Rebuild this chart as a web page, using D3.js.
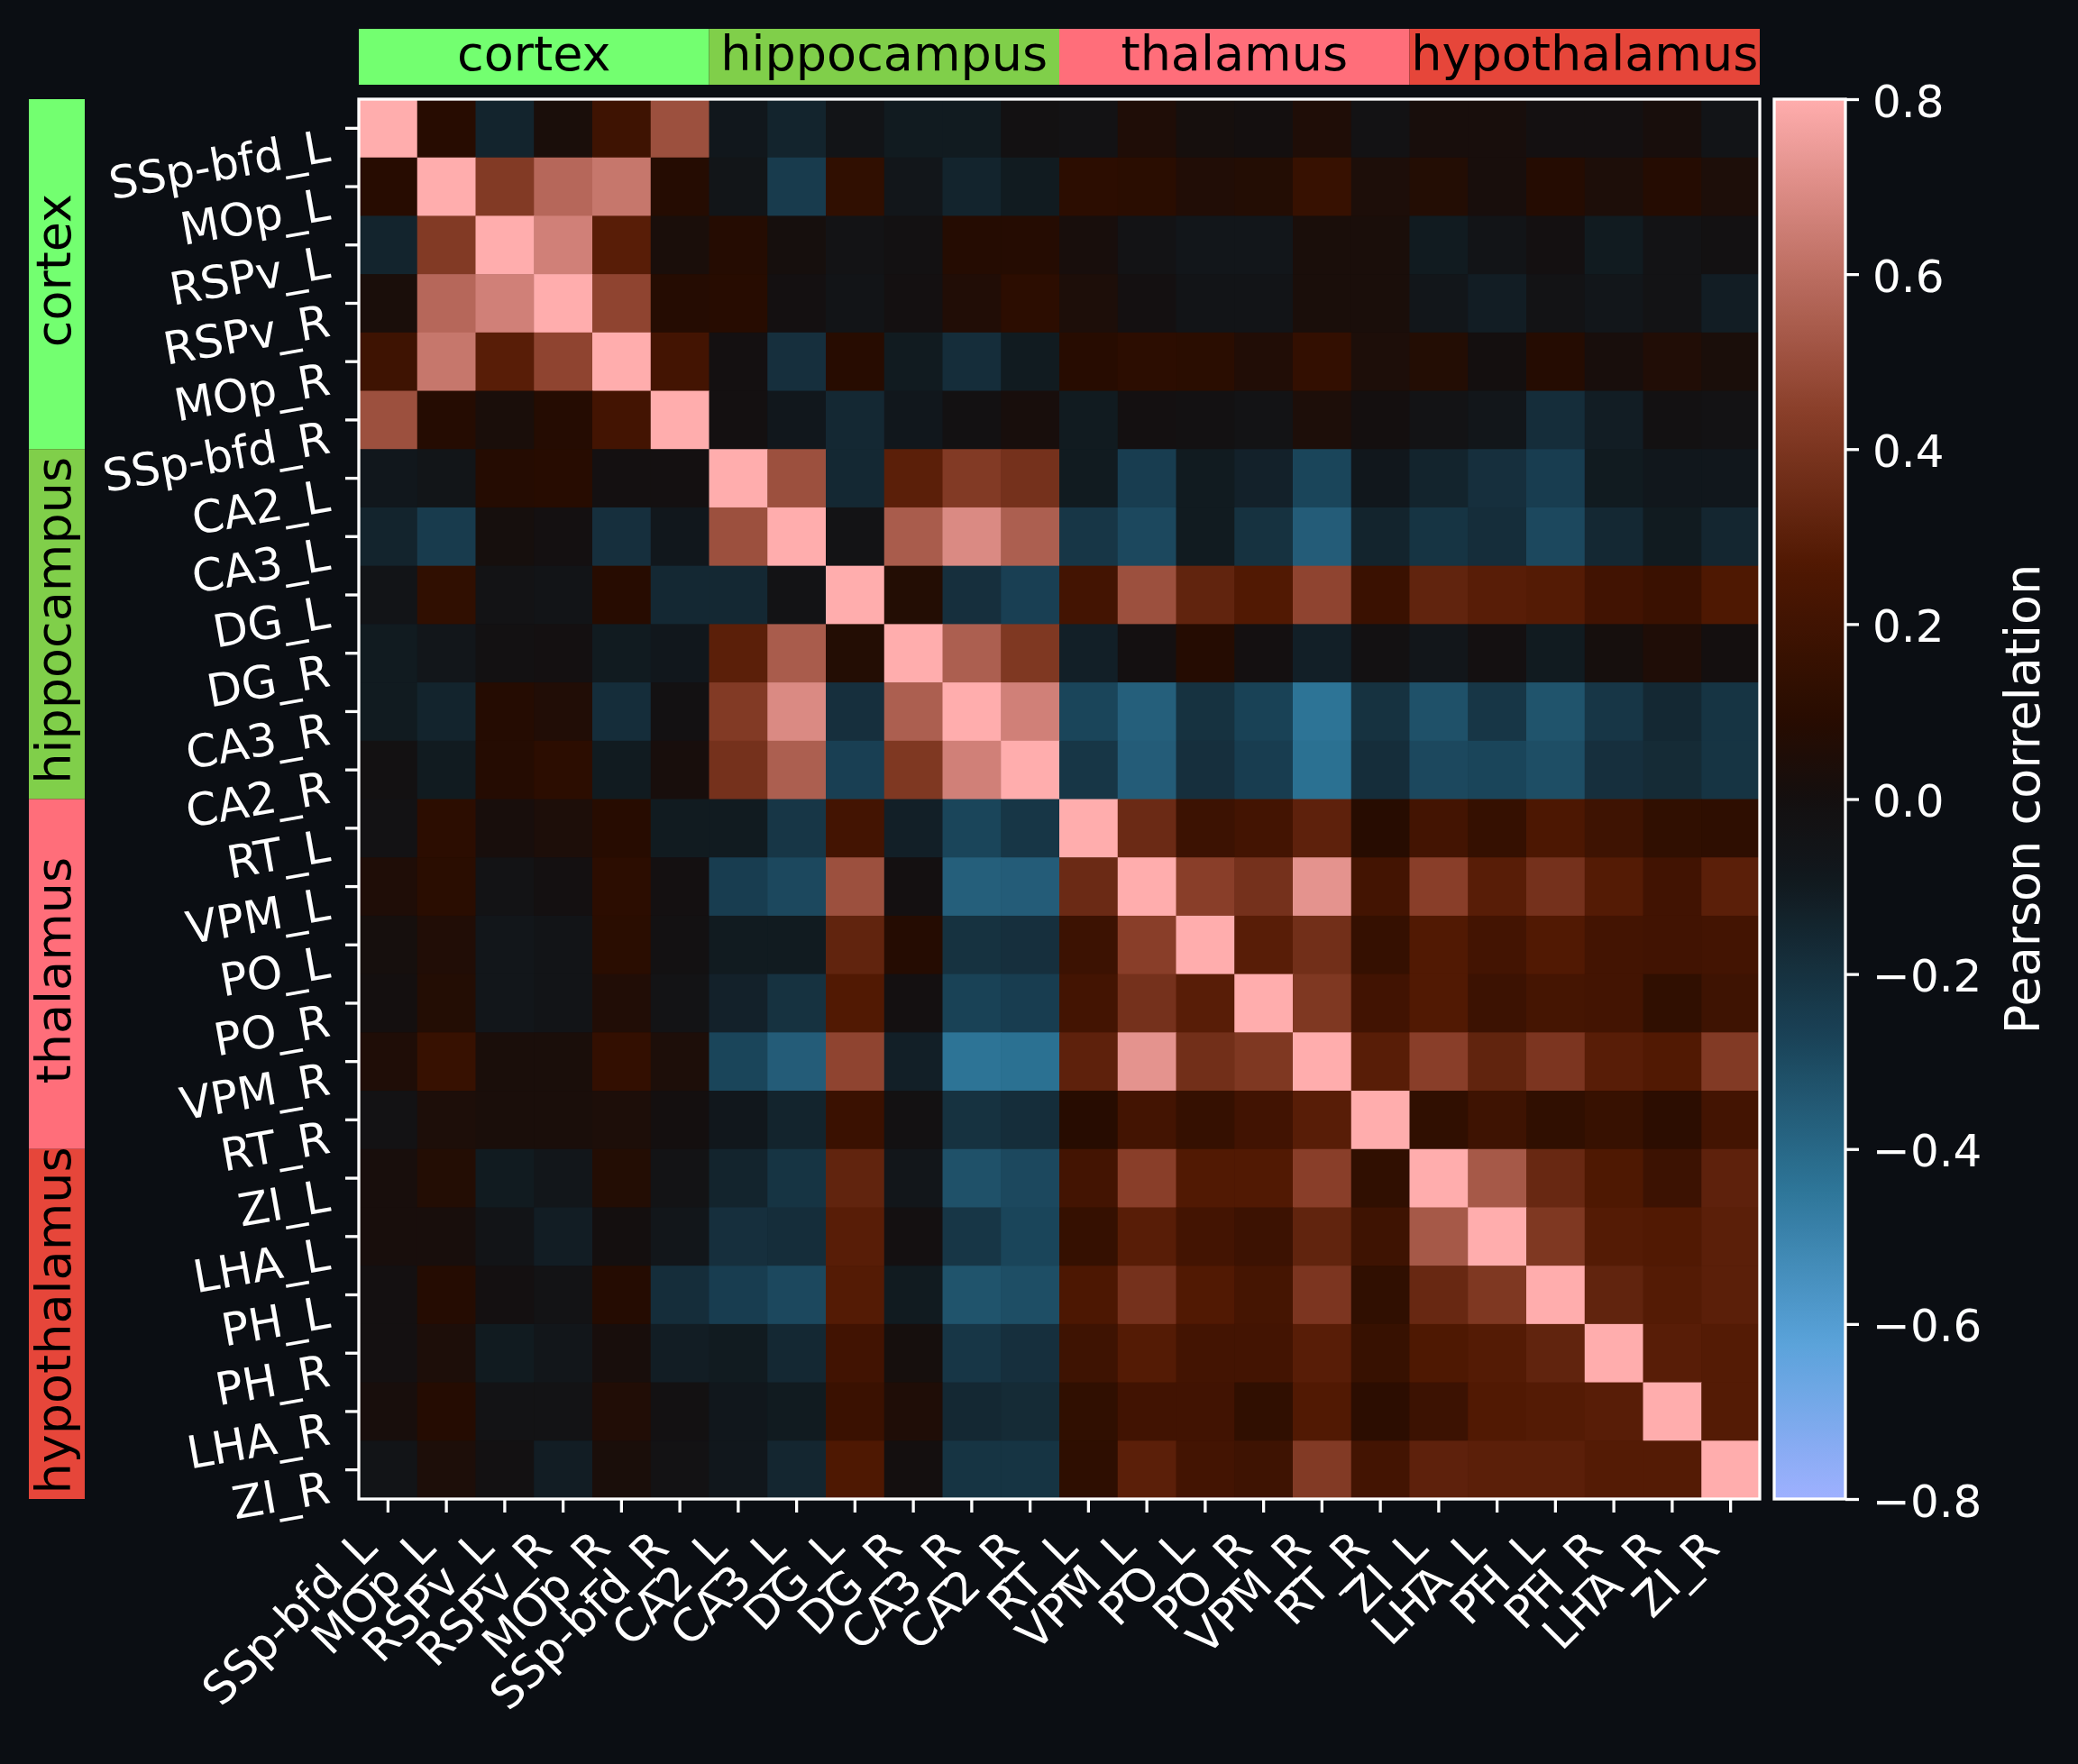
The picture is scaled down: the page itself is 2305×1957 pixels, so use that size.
<!DOCTYPE html>
<html>
<head>
<meta charset="utf-8">
<script src="https://cdn.jsdelivr.net/npm/d3@7"></script>
<style>
  body { margin: 0; background: #0b0e13; }
  text { font-family: 'DejaVu Sans', sans-serif; }
</style>
</head>
<body>
<div class="container"></div>
<script>
const regions = ['SSp-bfd_L', 'MOp_L', 'RSPv_L', 'RSPv_R', 'MOp_R', 'SSp-bfd_R',
  'CA2_L', 'CA3_L', 'DG_L', 'DG_R', 'CA3_R', 'CA2_R',
  'RT_L', 'VPM_L', 'PO_L', 'PO_R', 'VPM_R', 'RT_R',
  'ZI_L', 'LHA_L', 'PH_L', 'PH_R', 'LHA_R', 'ZI_R'];

const groupNames = ['cortex', 'hippocampus', 'thalamus', 'hypothalamus'];
const groupSizes = [6, 6, 6, 6];
const groupColors = ['#73ff70', '#80cf4a', '#ff6e7a', '#e6463a'];

// upper triangle of the correlation matrix, row i holds columns i+1..23
const upper = [
  [0.09, -0.14, 0.03, 0.19, 0.5, -0.08, -0.14, -0.05, -0.1, -0.1, -0.02, -0.03, 0.05, 0.01, 0.0, 0.05, -0.03, 0.02, 0.02, -0.01, -0.01, 0.02, -0.05],
  [0.42, 0.58, 0.63, 0.08, -0.06, -0.24, 0.13, -0.07, -0.14, -0.1, 0.11, 0.1, 0.06, 0.07, 0.16, 0.04, 0.07, 0.02, 0.08, 0.04, 0.08, 0.04],
  [0.66, 0.29, 0.03, 0.08, 0.01, -0.04, -0.02, 0.08, 0.08, 0.02, -0.04, -0.07, -0.07, 0.03, 0.03, -0.1, -0.05, -0.01, -0.1, -0.04, -0.02],
  [0.46, 0.08, 0.09, -0.01, -0.05, -0.01, 0.06, 0.11, 0.04, -0.01, -0.05, -0.05, 0.03, 0.03, -0.07, -0.11, -0.04, -0.07, -0.04, -0.11],
  [0.21, -0.01, -0.19, 0.09, -0.1, -0.18, -0.1, 0.09, 0.11, 0.1, 0.06, 0.14, 0.04, 0.07, 0.0, 0.08, 0.02, 0.06, 0.03],
  [-0.01, -0.08, -0.16, -0.08, -0.02, 0.02, -0.1, -0.01, -0.02, -0.04, 0.04, 0.0, -0.04, -0.07, -0.18, -0.11, -0.02, -0.03],
  [0.5, -0.16, 0.3, 0.42, 0.38, -0.1, -0.25, -0.1, -0.13, -0.28, -0.08, -0.14, -0.19, -0.25, -0.1, -0.08, -0.08],
  [-0.04, 0.54, 0.69, 0.55, -0.22, -0.29, -0.1, -0.2, -0.36, -0.14, -0.21, -0.18, -0.29, -0.16, -0.1, -0.15],
  [0.07, -0.19, -0.26, 0.21, 0.5, 0.32, 0.27, 0.46, 0.17, 0.32, 0.29, 0.28, 0.2, 0.17, 0.26],
  [0.55, 0.41, -0.12, -0.01, 0.08, -0.01, -0.12, -0.02, -0.07, -0.01, -0.1, 0.01, 0.05, 0.0],
  [0.66, -0.28, -0.37, -0.2, -0.27, -0.44, -0.2, -0.32, -0.22, -0.33, -0.22, -0.16, -0.21],
  [-0.22, -0.36, -0.19, -0.25, -0.43, -0.18, -0.29, -0.28, -0.31, -0.19, -0.17, -0.21],
  [0.35, 0.18, 0.21, 0.31, 0.09, 0.21, 0.15, 0.25, 0.19, 0.13, 0.12],
  [0.44, 0.38, 0.72, 0.21, 0.44, 0.29, 0.38, 0.28, 0.2, 0.3],
  [0.29, 0.37, 0.15, 0.27, 0.21, 0.27, 0.21, 0.2, 0.21],
  [0.41, 0.2, 0.27, 0.18, 0.22, 0.21, 0.13, 0.19],
  [0.29, 0.44, 0.32, 0.4, 0.29, 0.27, 0.42],
  [0.13, 0.19, 0.13, 0.16, 0.11, 0.21],
  [0.53, 0.34, 0.26, 0.18, 0.31],
  [0.41, 0.28, 0.27, 0.3],
  [0.32, 0.28, 0.3],
  [0.29, 0.28],
  [0.28],
  []
];

const colorTicks = [0.8, 0.6, 0.4, 0.2, 0.0, -0.2, -0.4, -0.6, -0.8];

// berlin-like diverging colormap
const cmapColors = ['#9eb0ff', '#5aa3da', '#2d7597', '#194155', '#11181d', '#140f0f',
  '#270c01', '#501802', '#8a3f2a', '#c37469', '#ffadad'];
const cmapDomain = [-0.8, -0.622, -0.444, -0.267, -0.089, 0, 0.089, 0.267, 0.444, 0.622, 0.8];

const buildCells = () => {
  const cells = [];
  regions.forEach((r, i) => {
    regions.forEach((c, j) => {
      let v = 1;
      if (j > i) v = upper[i][j - i - 1];
      if (j < i) v = upper[j][i - j - 1];
      cells.push({ row: r, col: c, value: v });
    });
  });
  return cells;
};

const render = () => {
  const width = 2305;
  const height = 1957;
  const left = 398, right = 1952, top = 110, bottom = 1663;
  const fontTick = 50;
  const fontLabel = 54;

  const svg = d3.select('.container').append('svg').attr('width', width).attr('height', height);
  svg.append('rect').attr('width', width).attr('height', height).attr('fill', '#0b0e13');

  const xScale = d3.scaleBand().domain(regions).range([left, right]);
  const yScale = d3.scaleBand().domain(regions).range([top, bottom]);
  const color = d3.scaleLinear().domain(cmapDomain).range(cmapColors).clamp(true);

  const cells = buildCells();
  svg.append('g').attr('class', 'cells')
    .selectAll('rect').data(cells).enter().append('rect')
    .attr('x', d => xScale(d.col))
    .attr('y', d => yScale(d.row))
    .attr('width', xScale.bandwidth() + 0.6)
    .attr('height', yScale.bandwidth() + 0.6)
    .attr('fill', d => color(d.value));

  svg.append('rect')
    .attr('x', left).attr('y', top)
    .attr('width', right - left).attr('height', bottom - top)
    .attr('fill', 'none').attr('stroke', 'white').attr('stroke-width', 3.3);

  // bottom axis
  const bottomAxis = svg.append('g').attr('transform', `translate(0,${bottom})`).call(d3.axisBottom(xScale).tickSize(15));
  bottomAxis.select('.domain').remove();
  bottomAxis.selectAll('line').attr('stroke', 'white').attr('stroke-width', 3.3);
  bottomAxis.selectAll('text')
    .attr('x', 0).attr('y', 0).attr('dy', 0)
    .attr('text-anchor', 'end')
    .attr('transform', 'translate(-10,57) rotate(-45)')
    .attr('fill', 'white').attr('font-size', fontTick).attr('font-family', 'DejaVu Sans');

  // left axis
  const leftAxis = svg.append('g').attr('transform', `translate(${left},0)`).call(d3.axisLeft(yScale).tickSize(15));
  leftAxis.select('.domain').remove();
  leftAxis.selectAll('line').attr('stroke', 'white').attr('stroke-width', 3.3);
  leftAxis.selectAll('text')
    .attr('x', 0).attr('y', 0).attr('dy', 0)
    .attr('text-anchor', 'end')
    .attr('transform', 'translate(-30,36) rotate(-10)')
    .attr('fill', 'white').attr('font-size', fontTick).attr('font-family', 'DejaVu Sans');

  // group bars
  const groups = [];
  let start = 0;
  groupNames.forEach((name, i) => {
    groups.push({ name, color: groupColors[i], first: regions[start], n: groupSizes[i] });
    start += groupSizes[i];
  });

  const topBar = svg.append('g').attr('class', 'top-groups');
  topBar.selectAll('rect').data(groups).enter().append('rect')
    .attr('x', d => xScale(d.first))
    .attr('y', 32)
    .attr('width', d => d.n * xScale.bandwidth())
    .attr('height', 62)
    .attr('fill', d => d.color);
  topBar.selectAll('text').data(groups).enter().append('text')
    .attr('x', d => xScale(d.first) + (d.n * xScale.bandwidth()) / 2)
    .attr('y', 78)
    .attr('text-anchor', 'middle')
    .attr('font-size', fontLabel)
    .attr('fill', 'black')
    .text(d => d.name);

  const leftBar = svg.append('g').attr('class', 'left-groups');
  leftBar.selectAll('rect').data(groups).enter().append('rect')
    .attr('x', 32)
    .attr('y', d => yScale(d.first))
    .attr('width', 62)
    .attr('height', d => d.n * yScale.bandwidth())
    .attr('fill', d => d.color);
  leftBar.selectAll('text').data(groups).enter().append('text')
    .attr('transform', d => `translate(78,${yScale(d.first) + (d.n * yScale.bandwidth()) / 2 - 4}) rotate(-90)`)
    .attr('text-anchor', 'middle')
    .attr('font-size', fontLabel)
    .attr('fill', 'black')
    .text(d => d.name);

  // colorbar
  const cbLeft = 1968, cbRight = 2047;
  const cbScale = d3.scaleLinear().domain([-0.8, 0.8]).range([bottom, top]);
  const grad = svg.append('defs').append('linearGradient')
    .attr('id', 'cb-grad').attr('x1', 0).attr('y1', 1).attr('x2', 0).attr('y2', 0);
  d3.range(0, 1.0001, 0.01).forEach(t => {
    grad.append('stop').attr('offset', t).attr('stop-color', color(-0.8 + 1.6 * t));
  });
  svg.append('rect')
    .attr('x', cbLeft).attr('y', top)
    .attr('width', cbRight - cbLeft).attr('height', bottom - top)
    .attr('fill', 'url(#cb-grad)')
    .attr('stroke', 'white').attr('stroke-width', 3.3);

  const cbAxis = svg.append('g').attr('transform', `translate(${cbRight},0)`)
    .call(d3.axisRight(cbScale).tickValues(colorTicks).tickSize(15).tickFormat(d3.format('.1f')));
  cbAxis.select('.domain').remove();
  cbAxis.selectAll('line').attr('stroke', 'white').attr('stroke-width', 3.3);
  cbAxis.selectAll('text')
    .attr('x', 30).attr('dy', '0.38em')
    .attr('fill', 'white').attr('font-size', fontTick).attr('font-family', 'DejaVu Sans');

  svg.append('text')
    .attr('transform', `translate(2262,${(top + bottom) / 2}) rotate(-90)`)
    .attr('text-anchor', 'middle')
    .attr('font-size', fontLabel)
    .attr('fill', 'white')
    .text('Pearson correlation');
};

render();
</script>
</body>
</html>
